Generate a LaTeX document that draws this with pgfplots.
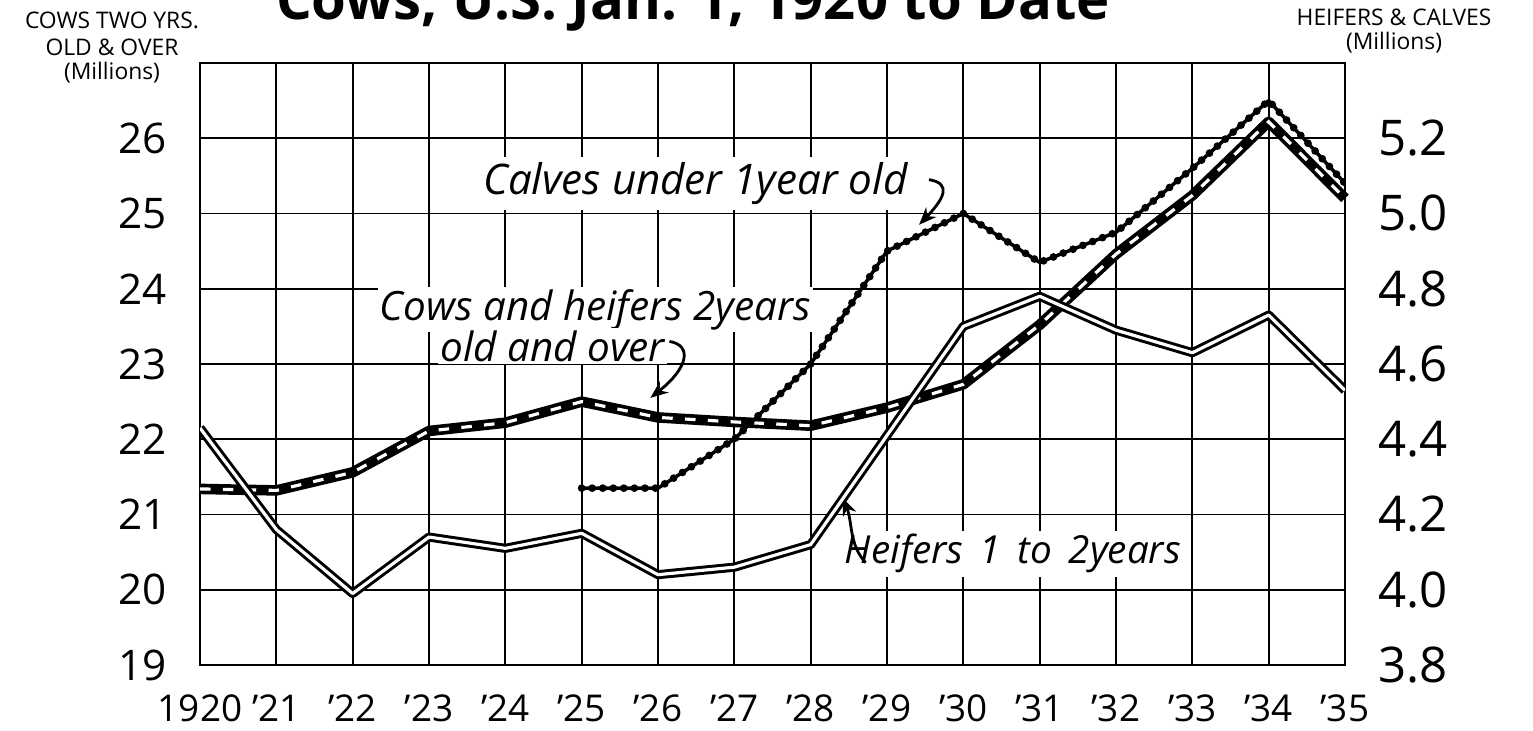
\documentclass[border=0pt]{standalone}
\usepackage{pgfplots}
\pgfplotsset{compat=1.18}
\usepackage{pgfplotstable}
\usepackage{fontspec}
\setmainfont{Open Sans}
\usetikzlibrary{arrows.meta}

% cows and heifers 2 years and over (left scale, millions)
\pgfplotstableread{
year cows
1920 21.34
1921 21.32
1922 21.56
1923 22.11
1924 22.22
1925 22.50
1926 22.29
1927 22.23
1928 22.18
1929 22.42
1930 22.73
1931 23.52
1932 24.46
1933 25.24
1934 26.22
1935 25.20
}\cows

% heifers 1 to 2 years (right scale)
\pgfplotstableread{
year heifers
1920 4.43
1921 4.16
1922 3.99
1923 4.14
1924 4.11
1925 4.15
1926 4.04
1927 4.06
1928 4.12
1929 4.41
1930 4.70
1931 4.78
1932 4.69
1933 4.63
1934 4.73
1935 4.53
}\heifers

% calves under 1 year (right scale)
\pgfplotstableread{
year calves
1925 4.27
1926 4.27
1927 4.40
1928 4.60
1929 4.90
1930 5.00
1931 4.87
1932 4.95
1933 5.12
1934 5.30
1935 5.08
}\calves

\begin{document}
\begin{tikzpicture}
\begin{axis}[
  scale only axis, width=11.45cm, height=6.02cm,
  xmin=1920, xmax=1935, ymin=19, ymax=27,
  xtick={1920,...,1935},
  xticklabels={1920,'21,'22,'23,'24,'25,'26,'27,'28,'29,'30,'31,'32,'33,'34,'35},
  ytick={19,...,26},
  yticklabels={19,20,21,22,23,24,25,26},
  grid=major,
  major grid style={black, line width=0.55pt},
  axis line style={black, line width=0.7pt},
  major tick length=0pt,
  xticklabel style={font=\fontsize{10.5}{12}\selectfont, yshift=-5pt},
  yticklabel style={font=\fontsize{12}{14}\selectfont, xshift=-6pt},
  clip=false,
]
\addplot[black, line width=3pt, line join=round] table[x=year, y=cows] {\cows};
\addplot[white, line width=0.9pt, dash pattern=on 3pt off 3.5pt] table[x=year, y=cows] {\cows};

\node[fill=white, inner sep=1.5pt, font=\fontsize{12}{14}\selectfont\itshape]
  at (axis cs:1926.49,25.40) {Calves under 1year old};
\draw[line width=0.8pt, -{Stealth[length=5pt,width=4pt]}]
  (axis cs:1929.55,25.45) .. controls (axis cs:1929.85,25.4) and (axis cs:1929.75,25.2) .. (axis cs:1929.42,24.85);

\node[fill=white, inner sep=0.6pt, font=\fontsize{11.5}{13}\selectfont\itshape]
  at (axis cs:1925.18,23.72) {Cows and heifers 2years};
\node[fill=white, inner sep=0.6pt, font=\fontsize{11.5}{13}\selectfont\itshape]
  at (axis cs:1924.62,23.24) {old and over};
\draw[line width=0.8pt, -{Stealth[length=5pt,width=4pt]}]
  (axis cs:1926.15,23.30) .. controls (axis cs:1926.45,23.25) and (axis cs:1926.4,22.95) .. (axis cs:1925.9,22.55);

\node[fill=white, inner sep=1pt, font=\fontsize{11}{13}\selectfont\itshape]
  at (axis cs:1930.65,20.48) {Heifers \,1 \,to \,2years};
\draw[line width=0.8pt, -{Stealth[length=5pt,width=4pt]}]
  (axis cs:1928.72,20.36) .. controls (axis cs:1928.5,20.6) and (axis cs:1928.55,20.9) .. (axis cs:1928.42,21.22);
\end{axis}

\begin{axis}[
  scale only axis, width=11.45cm, height=6.02cm,
  xmin=1920, xmax=1935, ymin=3.8, ymax=5.4,
  axis x line=none, axis y line*=right,
  ytick={3.8,4.0,4.2,4.4,4.6,4.8,5.0,5.2},
  yticklabels={3.8,4.0,4.2,4.4,4.6,4.8,5.0,5.2},
  axis line style={black, line width=0.7pt},
  major tick length=0pt,
  yticklabel style={font=\fontsize{14}{16}\selectfont, xshift=6pt},
]
\addplot[black, line width=2.6pt, line join=round] table[x=year, y=heifers] {\heifers};
\addplot[white, line width=0.9pt, line join=round] table[x=year, y=heifers] {\heifers};
\addplot[black, line width=1pt, line join=round] table[x=year, y=calves] {\calves};
\addplot[black, line width=2.2pt, line cap=round, dash pattern=on 0pt off 3pt] table[x=year, y=calves] {\calves};
\end{axis}

\node[font=\fontsize{6.5}{8}\selectfont] at (-0.88cm,6.45cm) {COWS TWO YRS.};
\node[font=\fontsize{6.5}{8}\selectfont] at (-0.88cm,6.18cm) {OLD \& OVER};
\node[font=\fontsize{6.5}{8}\selectfont] at (-0.88cm,5.92cm) {(Millions)};
\node[font=\fontsize{6.5}{8}\selectfont] at (11.94cm,6.48cm) {HEIFERS \& CALVES};
\node[font=\fontsize{6.5}{8}\selectfont] at (11.94cm,6.22cm) {(Millions)};
\node[anchor=base, font=\fontsize{16}{19}\selectfont\bfseries] at (4.93cm,6.45cm) {Cows, U.S. Jan. 1, 1920 to Date};

\pgfresetboundingbox
\path[use as bounding box] (-2.0cm,-0.66cm) rectangle (13.33cm,6.65cm);
\end{tikzpicture}
\end{document}
